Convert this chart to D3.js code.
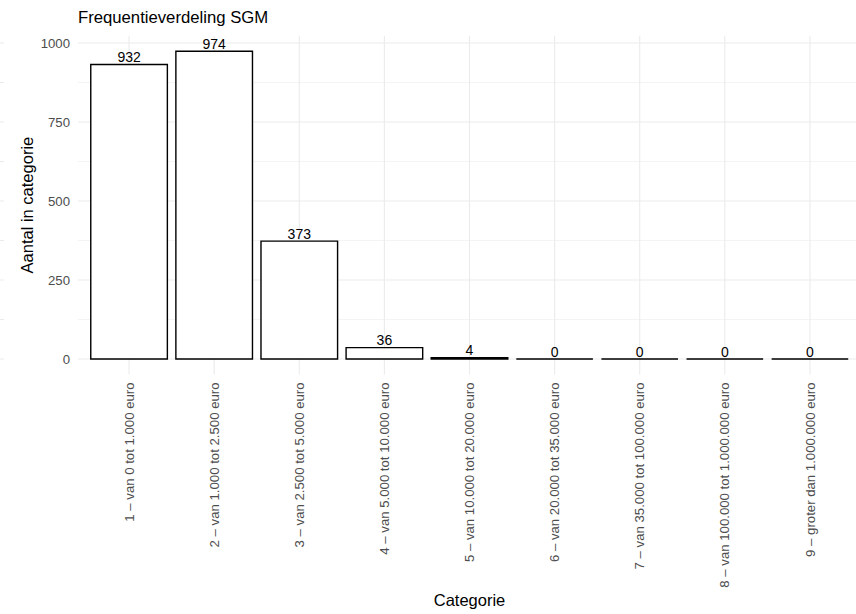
<!DOCTYPE html>
<html><head><meta charset="utf-8">
<script src="https://cdn.jsdelivr.net/npm/d3@7"></script>
<style>body{margin:0;background:#fff}svg{display:block;font-family:"Liberation Sans",Arial,sans-serif}</style>
</head><body><svg id="c" width="856" height="614"></svg>
<script>
const categories = ["1 – van 0 tot 1.000 euro","2 – van 1.000 tot 2.500 euro","3 – van 2.500 tot 5.000 euro","4 – van 5.000 tot 10.000 euro","5 – van 10.000 tot 20.000 euro","6 – van 20.000 tot 35.000 euro","7 – van 35.000 tot 100.000 euro","8 – van 100.000 tot 1.000.000 euro","9 – groter dan 1.000.000 euro"];
const counts = [932,974,373,36,4,0,0,0,0];
const yTicks = [0,250,500,750,1000];
const yMinor = [125,375,625,875];

(function(){
const svg = d3.select("#c");
const pL = 78, pR = 861, pT = 35.8, pB = 374.4;
const maxV = d3.max(counts), pad = maxV*0.05;
const y = d3.scaleLinear().domain([-pad, maxV+pad]).range([pB, pT]);
const x = d3.scaleBand().domain(categories).range([pL, pR]).paddingInner(0.1).paddingOuter(0.15);
const grid = "#ebebeb";
const ff = "Liberation Sans, Arial, sans-serif";

svg.append("g").selectAll("line").data(yMinor).join("line")
  .attr("x1", pL).attr("x2", 856).attr("y1", d=>y(d)).attr("y2", d=>y(d))
  .attr("stroke", grid).attr("stroke-width", 0.55);
svg.append("g").selectAll("line").data(yTicks).join("line")
  .attr("x1", pL).attr("x2", 856).attr("y1", d=>y(d)).attr("y2", d=>y(d))
  .attr("stroke", grid).attr("stroke-width", 1.1);
svg.append("g").selectAll("line").data(categories).join("line")
  .attr("x1", d=>x(d)+x.bandwidth()/2).attr("x2", d=>x(d)+x.bandwidth()/2)
  .attr("y1", pT).attr("y2", pB)
  .attr("stroke", grid).attr("stroke-width", 1.1);
svg.append("g").selectAll("line").data(yTicks.concat(yMinor)).join("line")
  .attr("x1", 0).attr("x2", 4).attr("y1", d=>y(d)).attr("y2", d=>y(d))
  .attr("stroke", grid).attr("stroke-width", 1);

// bars as closed paths so zero-height bars still show their outline
svg.append("g").selectAll("path").data(counts).join("path")
  .attr("d", (d,i)=>{
    const x0 = x(categories[i]), x1 = x0 + x.bandwidth(), y0 = y(0), y1 = y(d);
    const p = d3.path(); p.moveTo(x0,y0); p.lineTo(x0,y1); p.lineTo(x1,y1); p.lineTo(x1,y0); p.closePath();
    return p.toString();
  })
  .attr("fill", "#fff").attr("stroke", "#000").attr("stroke-width", 1.4);

svg.append("g").selectAll("text").data(counts).join("text")
  .attr("x", (d,i)=>x(categories[i])+x.bandwidth()/2).attr("y", d=>y(d)-2.5)
  .attr("text-anchor", "middle").attr("font-size", 14).attr("fill", "#000").attr("font-family", ff).text(d=>d);

const yAxis = d3.axisLeft(y).tickValues(yTicks).tickFormat(d3.format("d")).tickSize(0).tickPadding(0);
const ya = svg.append("g").attr("transform", `translate(${pL-8},0)`).call(yAxis);
ya.select(".domain").remove();
ya.selectAll("text").attr("font-size", 13.2).attr("fill", "#4d4d4d").attr("font-family", ff).attr("dy", "0.35em");

const xAxis = d3.axisBottom(x).tickSize(0).tickPadding(0);
const xa = svg.append("g").attr("transform", `translate(0,${pB})`).call(xAxis);
xa.select(".domain").remove();
xa.selectAll("text").attr("font-size", 13.2).attr("fill", "#4d4d4d").attr("font-family", ff)
  .attr("transform", "rotate(-90)").attr("text-anchor", "end")
  .attr("x", -8).attr("y", 0).attr("dy", "0.35em");

svg.append("text").attr("x", pL).attr("y", 23).attr("font-size", 16.7).attr("fill", "#000").attr("font-family", ff).text("Frequentieverdeling SGM");
svg.append("text").attr("transform", `translate(33,${(pT+pB)/2}) rotate(-90)`).attr("text-anchor", "middle")
  .attr("font-size", 16.5).attr("fill", "#000").attr("font-family", ff).text("Aantal in categorie");
svg.append("text").attr("x", (pL+pR)/2).attr("y", 606).attr("text-anchor", "middle")
  .attr("font-size", 16.5).attr("fill", "#000").attr("font-family", ff).text("Categorie");
})();
</script></body></html>
